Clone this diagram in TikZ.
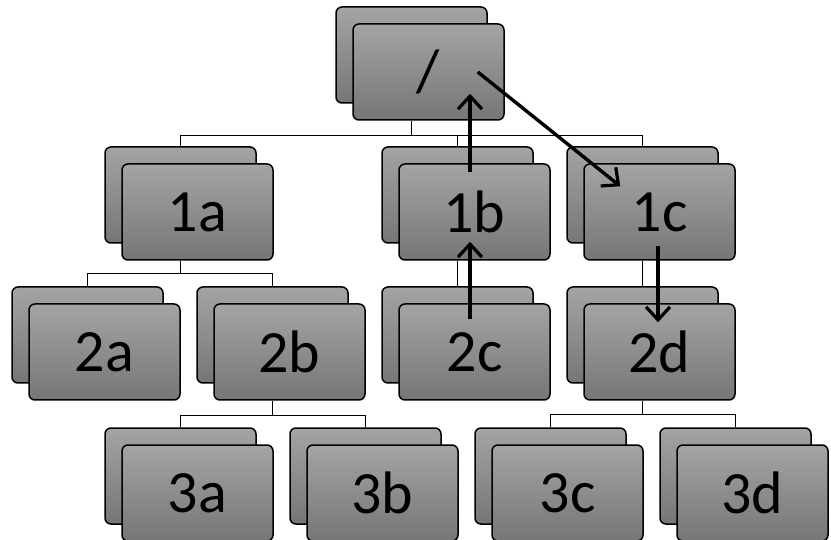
\documentclass[tikz,border=0pt]{standalone}
\usepackage{fontspec}
\setmainfont{Carlito}
\usetikzlibrary{arrows.meta}
\definecolor{cardtop}{RGB}{164,164,164}
\definecolor{cardbot}{RGB}{118,118,118}

\begin{document}
\begin{tikzpicture}[x=1pt,y=1pt,
  card/.style={rectangle,rounded corners=6pt,draw,line width=1.5pt,
    top color=cardtop,bottom color=cardbot,minimum width=151pt,
    minimum height=96pt,inner sep=0pt,font=\fontsize{60}{60}\selectfont},
  back card/.style={card},
  front card/.style={card},
  link/.style={line width=1.4pt},
  flow/.style={line width=3.4pt,
    -{Straight Barb[length=13pt,width=24pt,line width=3.2pt]}}]

  \useasboundingbox (0,0) rectangle (831,-540);

  % root
  \node[back card] (broot) at (411.5,-55) {};
  \node[front card] (root) at ([shift={(17,-17)}]broot) {/};

  % first level
  \node[back card] (b1a) at (180.5,-195) {};
  \node[front card] (1a) at ([shift={(17,-17)}]b1a) {1a};
  \node[back card] (b1b) at (457.5,-195) {};
  \node[front card] (1b) at ([shift={(17,-17)}]b1b) {1b};
  \node[back card] (b1c) at (642.5,-195) {};
  \node[front card] (1c) at ([shift={(17,-17)}]b1c) {1c};

  % second level
  \node[back card] (b2a) at (87.5,-335) {};
  \node[front card] (2a) at ([shift={(17,-17)}]b2a) {2a};
  \node[back card] (b2b) at (272.5,-335) {};
  \node[front card] (2b) at ([shift={(17,-17)}]b2b) {2b};
  \node[back card] (b2c) at (457.5,-335) {};
  \node[front card] (2c) at ([shift={(17,-17)}]b2c) {2c};
  \node[back card] (b2d) at (642.5,-335) {};
  \node[front card] (2d) at ([shift={(17,-17)}]b2d) {2d};

  % third level
  \node[back card] (b3a) at (180.5,-476) {};
  \node[front card] (3a) at ([shift={(17,-17)}]b3a) {3a};
  \node[back card] (b3b) at (365.5,-476) {};
  \node[front card] (3b) at ([shift={(17,-17)}]b3b) {3b};
  \node[back card] (b3c) at (550.5,-476) {};
  \node[front card] (3c) at ([shift={(17,-17)}]b3c) {3c};
  \node[back card] (b3d) at (735.5,-476) {};
  \node[front card] (3d) at ([shift={(17,-17)}]b3d) {3d};

  % tree links
  \draw[link] (broot.south |- root.south) -- ++(0,-15) coordinate (bus0);
  \draw[link] (bus0) -| (b1a.north) (bus0) -| (b1b.north) (bus0) -| (b1c.north);

  \draw[link] (b1a.south |- 1a.south) -- ++(0,-13) coordinate (bus1);
  \draw[link] (bus1) -| (b2a.north) (bus1) -| (b2b.north);
  \draw[link] (b1b.south |- 1b.south) -- (b2c.north);
  \draw[link] (b1c.south |- 1c.south) -- (b2d.north);

  \draw[link] (b2b.south |- 2b.south) -- ++(0,-15) coordinate (bus2);
  \draw[link] (bus2) -| (b3a.north) (bus2) -| (b3b.north);
  \draw[link] (b2d.south |- 2d.south) -- ++(0,-14) coordinate (bus3);
  \draw[link] (bus3) -| (b3c.north) (bus3) -| (b3d.north);

  % lookup path
  \draw[flow] ([shift={(-4.5,-16)}]2c.north) -- ([shift={(-4.5,19)}]1b.south);
  \draw[flow] ([shift={(-4.5,-9)}]1b.north) -- ([shift={(41.5,27)}]root.south);
  \draw[flow] ([xshift=-27]root.east) -- ([shift={(37,-23)}]1c.north west);
  \draw[flow] ([shift={(-1.5,15)}]1c.south) -- ([shift={(-1.5,-19)}]2d.north);
\end{tikzpicture}
\end{document}
